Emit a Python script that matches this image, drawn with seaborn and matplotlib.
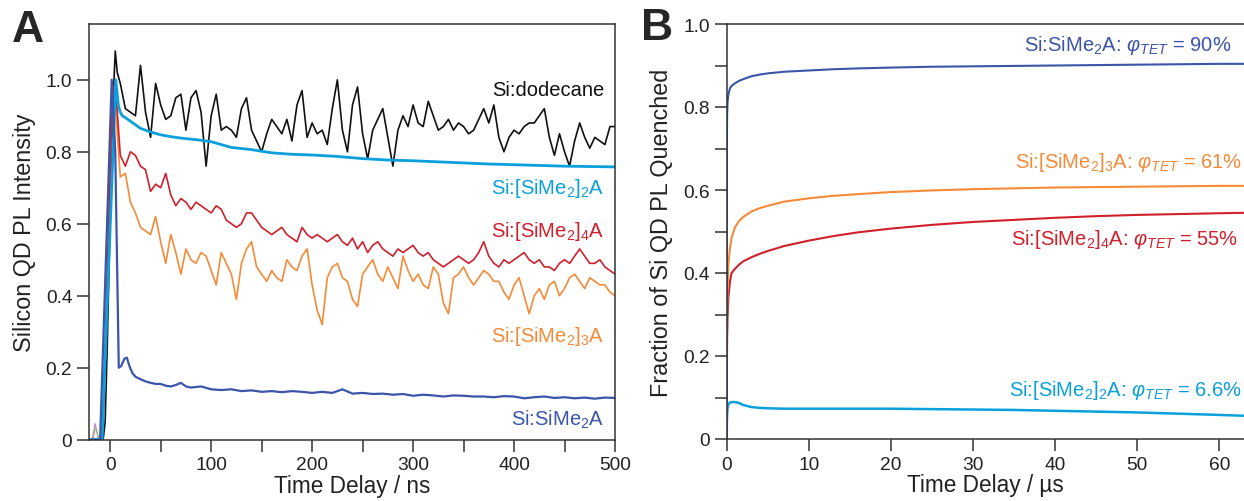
import numpy as np
import matplotlib
matplotlib.use("Agg")
import matplotlib.pyplot as plt
import seaborn as sns

# ---------------- Panel A: time-resolved PL (ns) ----------------
t_noisy = np.concatenate([[-21, -15, -10, -7, -5, -3, -1, 1, 3, 5, 7], np.arange(10, 505, 5)])

pl_dodecane = [
    0, 0, 0, 0, 0.05, 0.25, 0.5, 0.75, 0.95, 1.08, 1.02,
    0.99, 0.92, 0.91, 0.90, 1.04, 0.91, 0.84, 0.99, 0.93, 0.89,
    0.90, 0.95, 0.96, 0.86, 0.95, 0.97, 0.91, 0.76, 0.90, 0.96,
    0.86, 0.87, 0.86, 0.84, 0.92, 0.95, 0.86, 0.83, 0.80, 0.85,
    0.89, 0.87, 0.85, 0.89, 0.83, 0.93, 0.97, 0.84, 0.88, 0.85,
    0.86, 0.82, 0.92, 1.00, 0.86, 0.80, 0.93, 0.98, 0.85, 0.78,
    0.86, 0.89, 0.92, 0.84, 0.76, 0.86, 0.90, 0.87, 0.93, 0.88,
    0.87, 0.94, 0.90, 0.86, 0.87, 0.89, 0.86, 0.88, 0.87, 0.85,
    0.86, 0.89, 0.92, 0.88, 0.93, 0.84, 0.80, 0.84, 0.86, 0.85,
    0.87, 0.88, 0.88, 0.90, 0.92, 0.84, 0.79, 0.85, 0.80, 0.76,
    0.83, 0.88, 0.84, 0.81, 0.84, 0.83, 0.82, 0.87, 0.87,
]

pl_sime2_4a = [
    0, 0, 0, 0.05, 0.25, 0.45, 0.65, 0.85, 0.97, 1.00, 0.91,
    0.79, 0.76, 0.80, 0.79, 0.76, 0.75, 0.69, 0.71, 0.70, 0.74,
    0.68, 0.65, 0.67, 0.66, 0.64, 0.66, 0.65, 0.64, 0.63, 0.65,
    0.64, 0.61, 0.60, 0.59, 0.60, 0.63, 0.63, 0.61, 0.59, 0.58,
    0.57, 0.58, 0.59, 0.57, 0.56, 0.55, 0.59, 0.57, 0.56, 0.57,
    0.56, 0.55, 0.56, 0.57, 0.55, 0.54, 0.56, 0.53, 0.55, 0.52,
    0.54, 0.55, 0.53, 0.52, 0.51, 0.53, 0.52, 0.53, 0.54, 0.52,
    0.51, 0.52, 0.50, 0.49, 0.48, 0.49, 0.50, 0.51, 0.50, 0.49,
    0.50, 0.52, 0.55, 0.51, 0.49, 0.48, 0.50, 0.49, 0.50, 0.51,
    0.52, 0.50, 0.49, 0.50, 0.48, 0.48, 0.47, 0.49, 0.50, 0.49,
    0.51, 0.53, 0.51, 0.49, 0.49, 0.50, 0.48, 0.47, 0.46,
]

pl_sime2_3a = [
    0, 0, 0, 0.05, 0.25, 0.45, 0.65, 0.85, 0.97, 0.98, 0.85,
    0.73, 0.74, 0.66, 0.63, 0.59, 0.58, 0.57, 0.62, 0.55, 0.49,
    0.57, 0.52, 0.46, 0.53, 0.50, 0.49, 0.52, 0.51, 0.47, 0.43,
    0.52, 0.49, 0.46, 0.39, 0.49, 0.53, 0.55, 0.48, 0.46, 0.44,
    0.47, 0.45, 0.44, 0.50, 0.48, 0.47, 0.51, 0.53, 0.43, 0.36,
    0.32, 0.45, 0.48, 0.49, 0.45, 0.44, 0.39, 0.37, 0.46, 0.48,
    0.50, 0.46, 0.44, 0.48, 0.45, 0.42, 0.51, 0.47, 0.44, 0.46,
    0.43, 0.42, 0.48, 0.46, 0.38, 0.35, 0.45, 0.46, 0.48, 0.45,
    0.43, 0.45, 0.47, 0.46, 0.44, 0.44, 0.41, 0.39, 0.43, 0.45,
    0.40, 0.35, 0.40, 0.42, 0.39, 0.43, 0.44, 0.40, 0.42, 0.45,
    0.46, 0.44, 0.42, 0.45, 0.44, 0.43, 0.43, 0.41, 0.40,
]

t_sime2_2a = [-21, -8, 5.5, 8, 10, 12, 15, 20, 25, 30, 40, 50, 60, 70, 80, 90, 100,
              120, 140, 160, 180, 200, 225, 250, 275, 300, 325, 350, 375, 400, 425,
              450, 475, 500]
pl_sime2_2a = [0, 0, 1.0, 0.93, 0.91, 0.90, 0.895, 0.885, 0.875, 0.865, 0.855, 0.847,
               0.842, 0.838, 0.835, 0.832, 0.828, 0.812, 0.806, 0.797, 0.793, 0.791,
               0.787, 0.781, 0.777, 0.775, 0.772, 0.769, 0.766, 0.764, 0.762, 0.760,
               0.759, 0.758]

t_sime2a = [-21, -10, 1.5, 5, 8.5, 11, 14, 16.5, 19, 22, 25, 30, 35, 40, 45, 50, 55,
            60, 65, 70, 75, 80, 90, 100, 110, 120, 130, 140, 150, 160, 170, 180, 190,
            200, 210, 220, 230, 240, 250, 260, 270, 280, 290, 300, 310, 320, 330, 340,
            350, 360, 370, 380, 390, 400, 410, 420, 430, 440, 450, 460, 470, 480, 490,
            500]
pl_sime2a = [0, 0, 1.0, 0.8, 0.2, 0.205, 0.225, 0.228, 0.205, 0.185, 0.175, 0.168,
             0.162, 0.158, 0.155, 0.155, 0.15, 0.148, 0.152, 0.158, 0.148, 0.145,
             0.148, 0.14, 0.138, 0.14, 0.135, 0.137, 0.133, 0.135, 0.132, 0.135,
             0.133, 0.13, 0.133, 0.13, 0.14, 0.128, 0.13, 0.127, 0.128, 0.125, 0.127,
             0.122, 0.125, 0.123, 0.12, 0.123, 0.122, 0.12, 0.12, 0.118, 0.121, 0.12,
             0.115, 0.118, 0.12, 0.116, 0.118, 0.115, 0.117, 0.114, 0.117, 0.116]

# small pre-trigger artefacts
t_pre_pink = [-21, -18, -15, -12, -10]
pl_pre_pink = [0, 0, 0.045, 0.01, 0]
t_pre_green = [-21, -17, -14.5, -12, -10]
pl_pre_green = [0, 0, 0.035, 0.005, 0]

# ---------------- Panel B: fraction quenched (µs) ----------------
t_us = [0, 0.02, 0.05, 0.1, 0.2, 0.4, 0.6, 1, 1.5, 2, 3, 4, 5, 7, 10, 13, 16, 20,
        25, 30, 35, 40, 45, 50, 55, 60, 63]
fq_sime2a = [0, 0.70, 0.78, 0.81, 0.83, 0.845, 0.851, 0.857, 0.863, 0.867, 0.874,
             0.878, 0.881, 0.885, 0.888, 0.891, 0.893, 0.895, 0.897, 0.898, 0.899,
             0.900, 0.901, 0.902, 0.903, 0.904, 0.904]
fq_sime2_3a = [0, 0.22, 0.30, 0.36, 0.42, 0.46, 0.485, 0.51, 0.525, 0.535, 0.548,
               0.556, 0.562, 0.572, 0.580, 0.586, 0.590, 0.595, 0.599, 0.602, 0.604,
               0.606, 0.607, 0.608, 0.609, 0.610, 0.610]
fq_sime2_4a = [0, 0.15, 0.24, 0.29, 0.34, 0.38, 0.40, 0.41, 0.42, 0.428, 0.438,
               0.446, 0.453, 0.465, 0.478, 0.489, 0.498, 0.507, 0.516, 0.523, 0.528,
               0.533, 0.537, 0.540, 0.542, 0.544, 0.545]
fq_sime2_2a = [0, 0.04, 0.06, 0.075, 0.083, 0.088, 0.089, 0.089, 0.087, 0.082, 0.077,
               0.075, 0.074, 0.073, 0.073, 0.073, 0.073, 0.073, 0.072, 0.071, 0.070,
               0.068, 0.066, 0.064, 0.061, 0.058, 0.056]

C_BLACK = "#111111"
C_CYAN = "#0aa0dc"
C_RED = "#d0202c"
C_ORANGE = "#f58a38"
C_NAVY = "#3b55a8"
SPINE = "#333333"
TXT = "#222222"

sns.set_theme(style="ticks")
plt.rcParams["font.family"] = ["Liberation Sans", "DejaVu Sans"]
plt.rcParams["mathtext.fontset"] = "custom"
plt.rcParams["mathtext.rm"] = "Liberation Sans"
plt.rcParams["mathtext.it"] = "Liberation Sans:italic"
plt.rcParams["mathtext.bf"] = "Liberation Sans:bold"

fig = plt.figure(figsize=(12.44, 5.02), dpi=100)
axA = fig.add_axes([89 / 1244, 1 - 440.7 / 502, (615 - 89) / 1244, (440.7 - 25) / 502])
axB = fig.add_axes([726.7 / 1244, 1 - 440 / 502, (1244 - 726.7) / 1244, (440 - 25) / 502])


def style_axes(ax):
    for s in ax.spines.values():
        s.set_color(SPINE)
        s.set_linewidth(1.1)
    ax.tick_params(direction="out", length=8.5, width=1.1, color=SPINE,
                   labelsize=13.8, labelcolor=TXT, pad=3.5)
    ax.tick_params(which="minor", direction="out", length=8.5, width=1.1, color=SPINE)


# Panel A
kw = dict(estimator=None, sort=False, ax=axA, legend=False)
sns.lineplot(x=t_pre_pink, y=pl_pre_pink, color="#d878d8", lw=0.8, **kw)
sns.lineplot(x=t_pre_green, y=pl_pre_green, color="#88c070", lw=0.8, **kw)
sns.lineplot(x=t_noisy, y=pl_dodecane, color=C_BLACK, lw=1.2, **kw)
sns.lineplot(x=t_noisy, y=pl_sime2_3a, color=C_ORANGE, lw=1.2, **kw)
sns.lineplot(x=t_noisy, y=pl_sime2_4a, color=C_RED, lw=1.2, **kw)
sns.lineplot(x=t_sime2_2a, y=pl_sime2_2a, color=C_CYAN, lw=2.0, **kw)
sns.lineplot(x=t_sime2a, y=pl_sime2a, color=C_NAVY, lw=1.6, **kw)

axA.set_xlim(-21, 500)
axA.set_ylim(0, 1.155)
axA.set_xticks([0, 100, 200, 300, 400, 500])
axA.set_xticks([50, 150, 250, 350, 450], minor=True)
axA.set_yticks([0, 0.2, 0.4, 0.6, 0.8, 1.0])
axA.set_yticklabels(["0", "0.2", "0.4", "0.6", "0.8", "1.0"])
style_axes(axA)
axA.set_xlabel("Time Delay / ns", fontsize=16.3, color=TXT)
axA.set_ylabel("Silicon QD PL Intensity", fontsize=16.8, color=TXT)
axA.xaxis.set_label_coords(0.5, -0.083)
axA.yaxis.set_label_coords(-0.100, 0.5)

ta = dict(ha="right", va="baseline", fontsize=14.5)
axA.text(489, 0.958, "Si:dodecane", color=C_BLACK, **ta)
axA.text(489, 0.685, r"Si:[SiMe$_2$]$_2$A", color=C_CYAN, **ta)
axA.text(489, 0.565, r"Si:[SiMe$_2$]$_4$A", color=C_RED, **ta)
axA.text(489, 0.274, r"Si:[SiMe$_2$]$_3$A", color=C_ORANGE, **ta)
axA.text(489, 0.042, r"Si:SiMe$_2$A", color=C_NAVY, **ta)

# Panel B
kw = dict(estimator=None, sort=False, ax=axB, legend=False)
sns.lineplot(x=t_us, y=fq_sime2_2a, color=C_CYAN, lw=1.8, **kw)
sns.lineplot(x=t_us, y=fq_sime2_4a, color=C_RED, lw=1.5, **kw)
sns.lineplot(x=t_us, y=fq_sime2_3a, color=C_ORANGE, lw=1.5, **kw)
sns.lineplot(x=t_us, y=fq_sime2a, color=C_NAVY, lw=1.5, **kw)

axB.set_xlim(0, 63)
axB.set_ylim(0, 1.0)
axB.set_xticks([0, 10, 20, 30, 40, 50, 60])
axB.set_yticks([0, 0.2, 0.4, 0.6, 0.8, 1.0])
axB.set_yticklabels(["0", "0.2", "0.4", "0.6", "0.8", "1.0"])
axB.set_yticks([0.1, 0.3, 0.5, 0.7, 0.9], minor=True)
style_axes(axB)
axB.spines["right"].set_visible(False)
axB.set_xlabel("Time Delay / µs", fontsize=16.3, color=TXT)
axB.set_ylabel("Fraction of Si QD PL Quenched", fontsize=16.8, color=TXT)
axB.xaxis.set_label_coords(0.5, -0.083)
axB.yaxis.set_label_coords(-0.104, 0.5)

tb = dict(ha="right", va="baseline", fontsize=14.5, clip_on=False)
axB.text(61.5, 0.938, r"Si:SiMe$_2$A: $φ_{TET}$ = 90%", color=C_NAVY, **tb)
axB.text(62.75, 0.655, r"Si:[SiMe$_2$]$_3$A: $φ_{TET}$ = 61%", color=C_ORANGE, **tb)
axB.text(62.3, 0.469, r"Si:[SiMe$_2$]$_4$A: $φ_{TET}$ = 55%", color=C_RED, **tb)
axB.text(62.75, 0.106, r"Si:[SiMe$_2$]$_2$A: $φ_{TET}$ = 6.6%", color=C_CYAN, **tb)

# panel letters
fig.text(12 / 1244, 1 - 42 / 502, "A", fontsize=32, fontweight="bold", va="baseline")
fig.text(641 / 1244, 1 - 40 / 502, "B", fontsize=32, fontweight="bold", va="baseline")

fig.savefig("out.png", dpi=100)
